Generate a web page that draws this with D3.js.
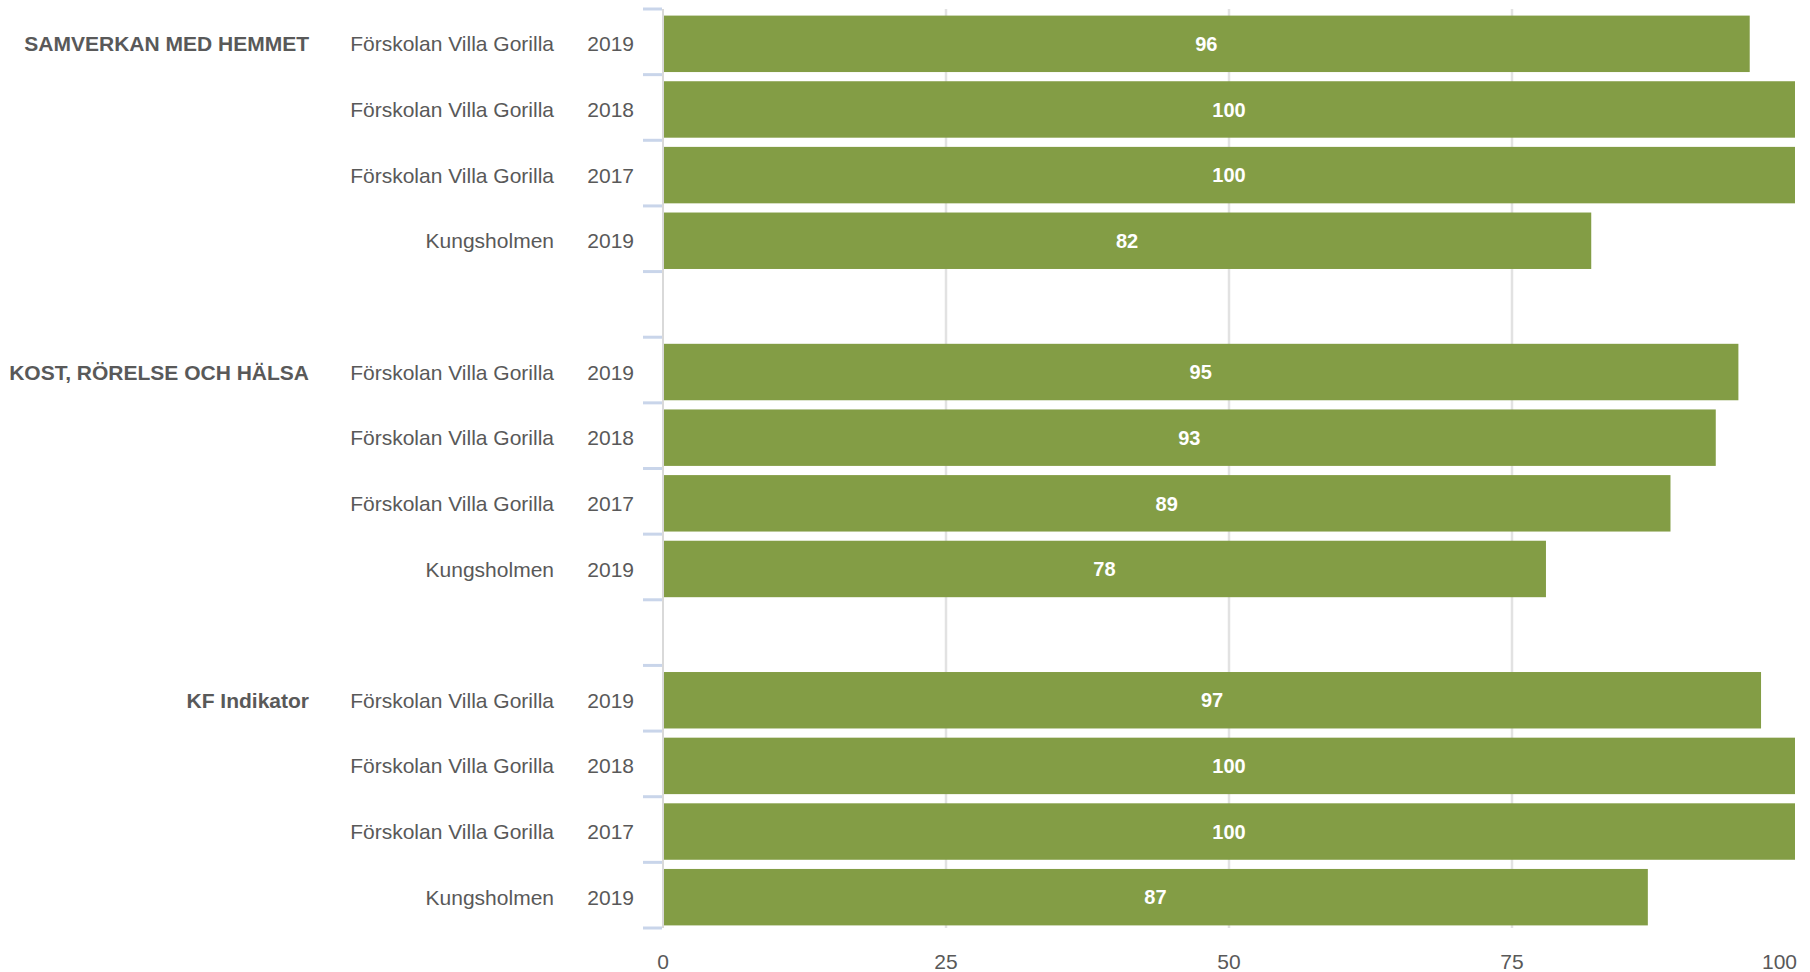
<!DOCTYPE html>
<html lang="sv">
<head>
<meta charset="UTF-8">
<title>Bar chart</title>
<style>
  body { margin: 0; background: #fff; }
  svg { display: block; font-family: "Liberation Sans", Arial, sans-serif; }
</style>
</head>
<body>
<svg width="1810" height="972"></svg>
<script src="https://cdn.jsdelivr.net/npm/d3@7"></script>
<script>

// data
var groups = ["SAMVERKAN MED HEMMET", "KOST, RÖRELSE OCH HÄLSA", "KF Indikator"];
var units = ["Förskolan Villa Gorilla", "Förskolan Villa Gorilla", "Förskolan Villa Gorilla", "Kungsholmen"];
var years = ["2019", "2018", "2017", "2019"];
var samverkanValues = [96, 100, 100, 82];
var kostValues = [95, 93, 89, 78];
var kfValues = [97, 100, 100, 87];
var xTicks = [0, 25, 50, 75, 100];

var groupValues = [samverkanValues, kostValues, kfValues];

// one slot per bar, plus an empty slot between groups
var rows = [];
var slots = [];
groups.forEach(function (g, gi) {
    units.forEach(function (u, i) {
        var key = gi + "-" + i;
        rows.push({ key: key, group: g, gi: gi, i: i, unit: u, year: years[i], value: groupValues[gi][i] });
        slots.push(key);
    });
    if (gi < groups.length - 1) slots.push("gap-" + gi);
});

var svg = d3.select("svg"),
    width = +svg.attr("width"),
    height = +svg.attr("height");

var x = d3.scaleLinear().domain([0, 100]).range([663, 1795]);

var pad = 0.14;
var y = d3.scaleBand()
    .domain(slots)
    .range([9, 928])
    .paddingInner(pad)
    .paddingOuter(pad / 2);

var step = y.step();
var shift = 2; // bars sit a little below the slot centre
var slotTop = function (key) { return y(key) - step * pad / 2; };
var mid = function (key) { return y(key) + shift + y.bandwidth() / 2; };

var grey = "#595959";
var barColor = "#839d45";

// gridlines
svg.append("g")
    .selectAll("line")
    .data(xTicks.filter(function (d) { return d > 0 && d < 100; }))
    .enter().append("line")
    .attr("x1", d => x(d))
    .attr("x2", d => x(d))
    .attr("y1", y.range()[0])
    .attr("y2", y.range()[1])
    .attr("stroke", "#e2e2e2")
    .attr("stroke-width", 2.5);

// bars
var bar = svg.append("g")
    .selectAll("g")
    .data(rows)
    .enter().append("g");

bar.append("rect")
    .attr("x", x(0) + 1)
    .attr("y", d => y(d.key) + shift)
    .attr("width", d => x(d.value) - x(0) - 1)
    .attr("height", y.bandwidth())
    .attr("fill", barColor);

bar.append("text")
    .attr("x", d => x(d.value / 2))
    .attr("y", d => mid(d.key))
    .attr("dy", "0.36em")
    .attr("text-anchor", "middle")
    .attr("fill", "#fff")
    .style("font-weight", "bold")
    .style("font-size", "20px")
    .text(d => d.value);

// vertical axis line
svg.append("line")
    .attr("x1", x(0))
    .attr("x2", x(0))
    .attr("y1", y.range()[0])
    .attr("y2", y.range()[1])
    .attr("stroke", "#d9d9d9")
    .attr("stroke-width", 2);

// category boundary ticks (per group)
var tickYs = [];
groups.forEach(function (g, gi) {
    var first = gi + "-0";
    for (var k = 0; k <= units.length; k++) tickYs.push(slotTop(first) + k * step);
});
svg.append("g")
    .selectAll("line")
    .data(tickYs)
    .enter().append("line")
    .attr("x1", x(0) - 20)
    .attr("x2", x(0) - 1)
    .attr("y1", d => d)
    .attr("y2", d => d)
    .attr("stroke", "#c9d5ea")
    .attr("stroke-width", 3);

// row labels
var labels = svg.append("g")
    .style("font-size", "21px")
    .attr("fill", grey);

labels.selectAll(".unit")
    .data(rows)
    .enter().append("text")
    .attr("class", "unit")
    .attr("x", 554)
    .attr("y", d => mid(d.key))
    .attr("dy", "0.36em")
    .attr("text-anchor", "end")
    .text(d => d.unit);

labels.selectAll(".year")
    .data(rows)
    .enter().append("text")
    .attr("class", "year")
    .attr("x", 634)
    .attr("y", d => mid(d.key))
    .attr("dy", "0.36em")
    .attr("text-anchor", "end")
    .text(d => d.year);

labels.selectAll(".group")
    .data(groups)
    .enter().append("text")
    .attr("class", "group")
    .attr("x", 309)
    .attr("y", (d, gi) => mid(gi + "-0"))
    .attr("dy", "0.36em")
    .attr("text-anchor", "end")
    .style("font-weight", "bold")
    .text(d => d);

// x tick labels
svg.append("g")
    .style("font-size", "21px")
    .attr("fill", grey)
    .selectAll("text")
    .data(xTicks)
    .enter().append("text")
    .attr("x", d => d === 100 ? x(d) + 2 : x(d))
    .attr("y", 961)
    .attr("dy", "0.36em")
    .attr("text-anchor", d => d === 100 ? "end" : "middle")
    .text(d => d);

</script>
</body>
</html>
